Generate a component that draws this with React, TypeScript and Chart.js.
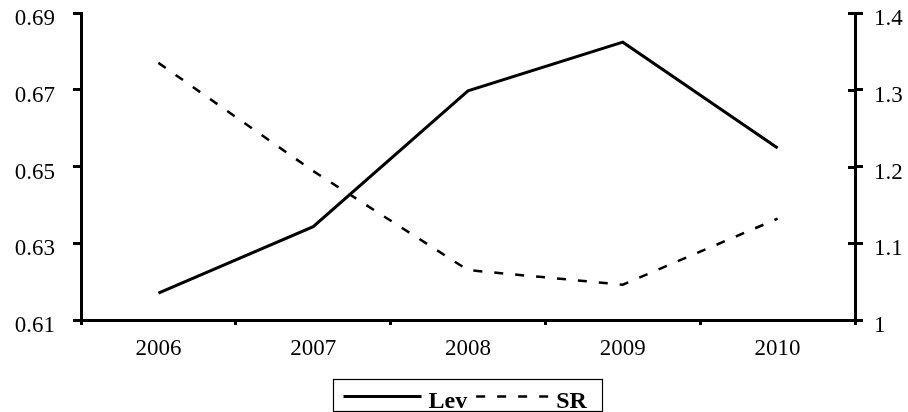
import React, { useEffect, useRef } from "react";
import { Chart, registerables } from "chart.js";

Chart.register(...registerables);

const years = ["2006", "2007", "2008", "2009", "2010"];
const levValues = [0.617, 0.6343, 0.6697, 0.6824, 0.6548];
const srValues = [1.335, 1.194, 1.065, 1.046, 1.132];
const leftTicks = { min: 0.61, max: 0.69, step: 0.02 };
const rightTicks = { min: 1, max: 1.4, step: 0.1 };

const FONT = '"Liberation Serif", "Times New Roman", serif';

const extrasPlugin = {
  id: "extras",
  afterDraw(chart: any) {
    const { ctx, chartArea } = chart;
    ctx.save();
    const yR = chart.scales.yR;
    const yL = chart.scales.y;
    ctx.strokeStyle = "#000";
    ctx.lineWidth = 3;
    yR.ticks.forEach((_t: any, i: number) => {
      const py = Math.round(yR.getPixelForTick(i)) + 0.5;
      ctx.beginPath();
      ctx.moveTo(chartArea.right - 7, py);
      ctx.lineTo(chartArea.right, py);
      ctx.stroke();
    });
    yL.ticks.forEach((_t: any, i: number) => {
      const py = Math.round(yL.getPixelForTick(i)) + 0.5;
      ctx.beginPath();
      ctx.moveTo(chartArea.left, py);
      ctx.lineTo(chartArea.left + 2, py);
      ctx.stroke();
    });

    // legend
    ctx.font = "bold 24px " + FONT;
    const sample = 78, padL = 10, padR = 16;
    const gapsText = [7, 2];
    const gapI = 9;
    const items = chart.data.datasets.map((ds: any, i: number) => ({
      label: ds.label,
      w: ctx.measureText(ds.label).width,
      dash: ds.borderDash || [],
      lw: ds.borderWidth,
      gt: gapsText[i] ?? 7,
    }));
    const total =
      padL + padR +
      items.reduce((s: number, it: any) => s + sample + it.gt + it.w, 0) +
      gapI * (items.length - 1);
    const cx = (chartArea.left + chartArea.right) / 2;
    const left = Math.round(cx - total / 2) + 0.5;
    const top = chartArea.bottom + 59.5;
    const h = 32;
    ctx.lineWidth = 1.2;
    ctx.setLineDash([]);
    ctx.strokeRect(left, top, Math.round(total), h);
    let x = left + padL;
    const ly = top + 17;
    items.forEach((it: any) => {
      ctx.beginPath();
      ctx.lineWidth = it.lw;
      ctx.setLineDash(it.dash);
      ctx.moveTo(x, ly);
      ctx.lineTo(x + sample, ly);
      ctx.stroke();
      ctx.setLineDash([]);
      x += sample + it.gt;
      ctx.fillStyle = "#000";
      ctx.textBaseline = "alphabetic";
      ctx.fillText(it.label, x, top + 28);
      x += it.w + gapI;
    });
    ctx.restore();
  },
};

const zeroPad = (s: any) => {
  s.paddingTop = 0;
  s.paddingBottom = 0;
};

export default function App() {
  const ref = useRef<HTMLCanvasElement>(null);
  useEffect(() => {
    if (!ref.current) return;
    const chart = new Chart(ref.current, {
      type: "line",
      data: {
        labels: years,
        datasets: [
          {
            label: "Lev",
            data: levValues,
            borderColor: "#000",
            backgroundColor: "#000",
            borderWidth: 3,
            pointRadius: 0,
            tension: 0,
            yAxisID: "y",
          },
          {
            label: "SR",
            data: srValues,
            borderColor: "#000",
            backgroundColor: "#000",
            borderWidth: 2.5,
            borderDash: [9, 12],
            pointRadius: 0,
            tension: 0,
            yAxisID: "yR",
          },
        ],
      },
      options: {
        responsive: false,
        animation: false,
        layout: { padding: { top: 13, bottom: 42, left: 0, right: 0 } },
        plugins: { legend: { display: false }, tooltip: { enabled: false } },
        scales: {
          x: {
            type: "category",
            offset: true,
            grid: {
              offset: true,
              drawOnChartArea: false,
              tickLength: 5,
              lineWidth: 3,
              color: "#000",
            },
            border: { width: 3, color: "#000" },
            ticks: {
              font: { family: FONT, size: 23 },
              color: "#000",
              padding: 10,
              maxRotation: 0,
            },
            afterFit: (s: any) => {
              s.height = 50;
              s.paddingLeft = 0;
              s.paddingRight = 0;
            },
          },
          y: {
            position: "left",
            min: leftTicks.min,
            max: leftTicks.max,
            grid: {
              drawOnChartArea: false,
              tickLength: 8,
              lineWidth: 3,
              color: "#000",
            },
            border: { width: 3, color: "#000" },
            ticks: {
              stepSize: leftTicks.step,
              font: { family: FONT, size: 23 },
              color: "#000",
              padding: 18,
              labelOffset: 6,
              callback: (v: any) => Number(v).toFixed(2),
            },
            afterFit: (s: any) => {
              s.width = 81;
              zeroPad(s);
            },
          },
          yR: {
            position: "right",
            min: rightTicks.min,
            max: rightTicks.max,
            grid: {
              drawOnChartArea: false,
              tickLength: 8,
              lineWidth: 3,
              color: "#000",
            },
            border: { width: 3, color: "#000" },
            ticks: {
              stepSize: rightTicks.step,
              font: { family: FONT, size: 23 },
              color: "#000",
              padding: 11,
              labelOffset: 6,
              callback: (v: any) => String(Number(Number(v).toFixed(1))),
            },
            afterFit: (s: any) => {
              s.width = 53;
              zeroPad(s);
            },
          },
        },
      },
      plugins: [extrasPlugin],
    });
    return () => chart.destroy();
  }, []);
  return (
    <div style={{ position: "fixed", left: 0, top: 0, width: 908, height: 412, background: "#fff" }}>
      <canvas ref={ref} width={908} height={412} />
    </div>
  );
}
